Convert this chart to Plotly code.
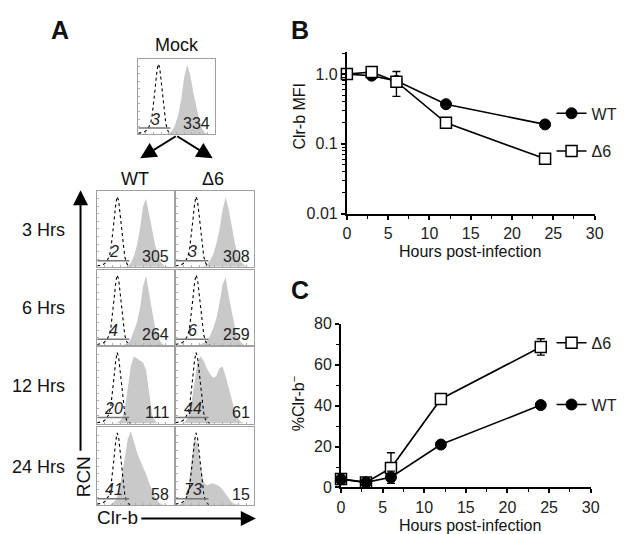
import plotly.graph_objects as go

W, H = 625, 534
FONT = "Arial, Liberation Sans, sans-serif"

# ---------------- Panel B / C data ----------------
hours = [0, 3, 6, 12, 24]
mfi_wt = [1.0, 0.95, 0.80, 0.37, 0.19]
mfi_wt_err = [0.0, 0.0, 0.0, 0.0, 0.01]
mfi_d6 = [1.0, 1.07, 0.78, 0.20, 0.061]
mfi_d6_err_up = [0.0, 0.0, 0.31, 0.0, 0.006]
mfi_d6_err_dn = [0.0, 0.0, 0.30, 0.0, 0.006]

neg_wt = [4.0, 2.5, 5.0, 21.0, 40.3]
neg_wt_err = [0.0, 0.0, 3.0, 0.0, 0.0]
neg_d6 = [4.2, 2.5, 9.5, 43.3, 68.7]
neg_d6_err = [0.0, 0.0, 7.5, 0.0, 4.0]

# ---------------- Panel A histogram data ----------------
bins = [0, 4, 8, 12, 16, 20, 24, 28, 32, 36, 40, 44, 48, 52, 56, 60, 64, 68, 72, 76, 80, 84, 88, 92, 96, 100]
hist_mock = [0, 0, 0, 0, 0, 0, 0, 0, 0, 0, 1, 4, 12, 24, 45, 75, 92, 78, 55, 35, 18, 6, 1, 0, 0, 0]
hist_wt3 = [0, 0, 0, 0, 0, 0, 0, 0, 0, 0, 1, 5, 14, 28, 50, 80, 90, 70, 48, 28, 14, 5, 1, 0, 0, 0]
hist_d3 = [0, 0, 0, 0, 0, 0, 0, 0, 0, 1, 3, 8, 16, 30, 48, 75, 92, 75, 50, 30, 15, 6, 2, 0, 0, 0]
hist_wt6 = [0, 0, 0, 0, 0, 0, 0, 0, 0, 1, 3, 8, 18, 30, 48, 78, 92, 68, 42, 22, 10, 3, 0, 0, 0, 0]
hist_d6 = [0, 0, 0, 0, 0, 0, 0, 0, 1, 3, 6, 12, 22, 35, 55, 80, 90, 65, 42, 22, 10, 3, 0, 0, 0, 0]
hist_wt12 = [0, 0, 0, 0, 0, 0, 0, 2, 6, 18, 45, 75, 88, 85, 82, 80, 70, 40, 12, 3, 0, 0, 0, 0, 0, 0]
hist_d12 = [0, 0, 0, 2, 8, 25, 55, 80, 88, 82, 72, 65, 60, 62, 72, 75, 62, 45, 30, 15, 6, 2, 0, 0, 0, 0]
hist_wt24 = [0, 0, 0, 0, 0, 2, 6, 15, 35, 60, 85, 95, 82, 68, 58, 50, 40, 28, 18, 10, 4, 1, 0, 0, 0, 0]
hist_d24 = [0, 0, 2, 6, 20, 50, 85, 80, 50, 30, 25, 27, 28, 26, 24, 20, 14, 8, 3, 1, 0, 0, 0, 0, 0, 0]

iso_x = [0, 4, 8, 12, 16, 18, 20, 22, 24, 26, 28, 30, 32, 34, 36, 38, 40, 44]
iso_y = [1, 2, 3, 6, 14, 24, 40, 60, 80, 93, 88, 70, 48, 28, 14, 6, 2, 0]
gate_x = [0, 42]
gate_level = 8

left_nums = {"mock": "3", "wt3": "2", "d3": "3", "wt6": "4", "d6": "6",
             "wt12": "20", "d12": "44", "wt24": "41", "d24": "73"}
right_nums = {"mock": "334", "wt3": "305", "d3": "308", "wt6": "264", "d6": "259",
              "wt12": "111", "d12": "61", "wt24": "58", "d24": "15"}
row_labels = ["3 Hrs", "6 Hrs", "12 Hrs", "24 Hrs"]

hist_data = {"mock": hist_mock, "wt3": hist_wt3, "d3": hist_d3, "wt6": hist_wt6, "d6": hist_d6,
             "wt12": hist_wt12, "d12": hist_d12, "wt24": hist_wt24, "d24": hist_d24}


def px(p):
    return p / W


def py(p):
    return 1 - p / H


# pixel boxes (left, right, top, bottom) for the histogram panels
cols = [(87, 165), (167, 247)]
rows = [(181, 259), (262, 340), (342, 421), (425, 505)]
boxes = {"mock": (129, 207, 44, 122)}
keys_grid = [["wt3", "d3"], ["wt6", "d6"], ["wt12", "d12"], ["wt24", "d24"]]
for r, (t, b) in enumerate(rows):
    for c, (l, rr) in enumerate(cols):
        boxes[keys_grid[r][c]] = (l, rr, t, b)

fig = go.Figure()
layout = {}
annotations = []

# ---------------- Panel B ----------------
fig.add_trace(go.Scatter(
    x=hours, y=mfi_wt, name="WT", mode="lines+markers", xaxis="x", yaxis="y",
    line=dict(color="black", width=1.6),
    marker=dict(symbol="circle", size=11, color="black", line=dict(color="black", width=1)),
    error_y=dict(type="data", array=mfi_wt_err, color="black", thickness=1.4, width=4),
    legend="legend", legendgroup="bwt", cliponaxis=False))
fig.add_trace(go.Scatter(
    x=hours, y=mfi_d6, name="Δ6", mode="lines+markers", xaxis="x", yaxis="y",
    line=dict(color="black", width=1.6),
    marker=dict(symbol="square", size=11, color="white", line=dict(color="black", width=1.5)),
    error_y=dict(type="data", symmetric=False, array=mfi_d6_err_up, arrayminus=mfi_d6_err_dn,
                 color="black", thickness=1.4, width=4),
    legend="legend", legendgroup="bd6", cliponaxis=False))

# ---------------- Panel C ----------------
fig.add_trace(go.Scatter(
    x=hours, y=neg_d6, name="Δ6", mode="lines+markers", xaxis="x2", yaxis="y2",
    line=dict(color="black", width=1.6),
    marker=dict(symbol="square", size=11, color="white", line=dict(color="black", width=1.5)),
    error_y=dict(type="data", array=neg_d6_err, color="black", thickness=1.4, width=4),
    legend="legend2", legendgroup="cd6", legendrank=1, cliponaxis=False))
fig.add_trace(go.Scatter(
    x=hours, y=neg_wt, name="WT", mode="lines+markers", xaxis="x2", yaxis="y2",
    line=dict(color="black", width=1.6),
    marker=dict(symbol="circle", size=11, color="black", line=dict(color="black", width=1)),
    error_y=dict(type="data", array=neg_wt_err, color="black", thickness=1.4, width=4),
    legend="legend2", legendgroup="cwt", legendrank=2, cliponaxis=False))

axis_common = dict(showgrid=False, zeroline=False, showline=True, linecolor="black", linewidth=2,
                   ticks="outside", ticklen=4, tickwidth=1.5, tickcolor="black",
                   tickfont=dict(family=FONT, size=16, color="#222"))

layout["xaxis"] = dict(axis_common, domain=[px(342), px(595)], range=[0, 30], anchor="y",
                       tickvals=[0, 5, 10, 15, 20, 25, 30],
                       minor=dict(ticks="outside", ticklen=3, tickwidth=1.2, tickcolor="black", dtick=2.5))
layout["yaxis"] = dict(axis_common, domain=[py(204), py(37)], type="log", range=[-2, 0.32], anchor="x",
                       tickvals=[0.01, 0.1, 1], ticktext=["0.01", "0.1", "1.0"],
                       minor=dict(ticks="outside", ticklen=3, tickwidth=1.2, tickcolor="black", dtick="D1"))
layout["xaxis2"] = dict(axis_common, domain=[px(336), px(591)], range=[0, 30], anchor="y2",
                        tickvals=[0, 5, 10, 15, 20, 25, 30],
                        minor=dict(ticks="outside", ticklen=3, tickwidth=1.2, tickcolor="black", dtick=2.5))
layout["yaxis2"] = dict(axis_common, domain=[py(487), py(318)], range=[0, 80], anchor="x2",
                        tickvals=[0, 20, 40, 60, 80],
                        minor=dict(ticks="outside", ticklen=3, tickwidth=1.2, tickcolor="black", dtick=10))

# ---------------- Panel A histograms ----------------
hist_order = ["mock", "wt3", "d3", "wt6", "d6", "wt12", "d12", "wt24", "d24"]
for i, key in enumerate(hist_order):
    n = i + 3
    xa, ya = f"x{n}", f"y{n}"
    l, r, t, b = boxes[key]
    fig.add_trace(go.Scatter(x=bins, y=hist_data[key], mode="lines", fill="tozeroy",
                             fillcolor="#c9c9c9", line=dict(width=0, color="#c9c9c9"),
                             xaxis=xa, yaxis=ya, showlegend=False, hoverinfo="skip"))
    fig.add_trace(go.Scatter(x=iso_x, y=iso_y, mode="lines",
                             line=dict(color="black", width=1.1, dash="dot"),
                             xaxis=xa, yaxis=ya, showlegend=False, hoverinfo="skip"))
    fig.add_trace(go.Scatter(x=gate_x, y=[gate_level, gate_level], mode="lines",
                             line=dict(color="#777", width=1.5),
                             xaxis=xa, yaxis=ya, showlegend=False, hoverinfo="skip"))
    hax = dict(showgrid=False, zeroline=False, showline=True, mirror=True, linecolor="#a0a0a0",
               linewidth=1, ticks="inside", ticklen=2, tickcolor="#b0b0b0", showticklabels=False)
    layout[f"xaxis{n}"] = dict(hax, domain=[px(l), px(r)], range=[0, 100], anchor=ya, dtick=10)
    layout[f"yaxis{n}"] = dict(hax, domain=[py(b), py(t)], range=[0, 100], anchor=xa, dtick=10)
    annotations.append(dict(x=22, y=20, xref=xa, yref=ya, text=f"<i>{left_nums[key]}</i>", showarrow=False,
                            font=dict(family=FONT, size=16, color="#222"), xanchor="center", yanchor="middle"))
    annotations.append(dict(x=97, y=14, xref=xa, yref=ya, text=right_nums[key], showarrow=False,
                            font=dict(family=FONT, size=16, color="#222"), xanchor="right", yanchor="middle"))

# ---------------- Text labels ----------------
def label(x, y, text, size=16, bold=False, xanchor="center", textangle=0):
    t = f"<b>{text}</b>" if bold else text
    annotations.append(dict(x=px(x), y=py(y), xref="paper", yref="paper", text=t, showarrow=False,
                            xanchor=xanchor, yanchor="middle", textangle=textangle,
                            font=dict(family=FONT, size=size, color="#111")))


label(49, 14, "A", size=25, bold=True)
label(294, 14, "B", size=25, bold=True)
label(294, 283, "C", size=25, bold=True)
label(168, 30, "Mock", size=18)
label(126, 168, "WT", size=18)
label(205, 168, "Δ6", size=18)
for lab, (t, b) in zip(row_labels, rows):
    label(56, (t + b) / 2 + 1, lab, size=18, xanchor="right")
label(73, 476, "RCN", size=19, textangle=-90)
label(108, 518, "Clr-b", size=19)

# axis titles for B and C
label(468, 243, "Hours post-infection", size=16)
label(294, 103, "Clr-b MFI", size=16, textangle=-90)
label(468, 526, "Hours post-infection", size=16)
label(292, 400, "%Clr-b<sup>−</sup>", size=16, textangle=-90)

# ---------------- Arrows ----------------
def arrow(x0, y0, x1, y1, width=2.0, size=1.3):
    annotations.append(dict(x=px(x1), y=py(y1), xref="paper", yref="paper",
                            ax=x0 - x1, ay=y0 - y1, axref="pixel", ayref="pixel",
                            showarrow=True, arrowhead=2, arrowsize=size, arrowwidth=width,
                            arrowcolor="black", text=""))


arrow(168, 124, 131, 147, size=1.6)
arrow(168, 124, 205, 147, size=1.6)
arrow(70, 442, 70, 180, size=1.5)
arrow(133, 519, 249, 519, size=1.5)

layout["annotations"] = annotations

fig.update_layout(
    **layout,
    width=W, height=H, margin=dict(l=0, r=0, t=0, b=0),
    paper_bgcolor="white", plot_bgcolor="white",
    font=dict(family=FONT, size=14, color="#222"),
    legend=dict(x=px(551), y=py(83), xanchor="left", yanchor="top", bgcolor="rgba(0,0,0,0)",
                font=dict(family=FONT, size=16, color="#222"), tracegroupgap=14, itemwidth=30),
    legend2=dict(x=px(551), y=py(320), xanchor="left", yanchor="top", bgcolor="rgba(0,0,0,0)",
                 font=dict(family=FONT, size=16, color="#222"), tracegroupgap=38, itemwidth=30),
)

fig.write_html("out.html")
